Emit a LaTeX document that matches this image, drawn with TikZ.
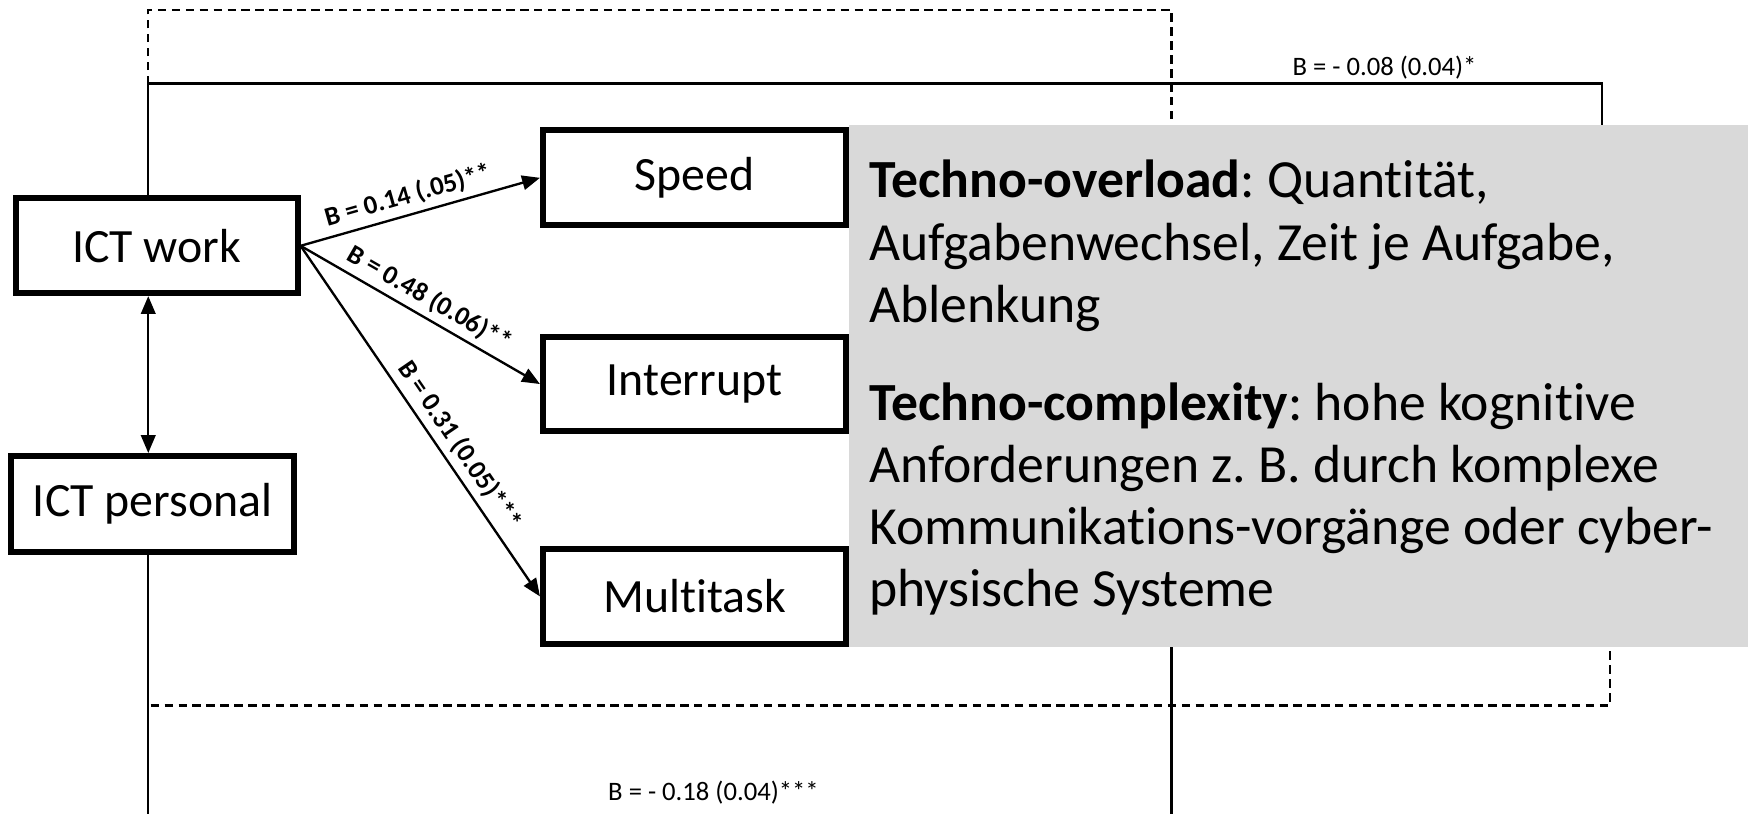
\documentclass[tikz,border=0pt]{standalone}
\usepackage{fontspec}
\setmainfont{Carlito}[Ligatures=NoCommon]
\usetikzlibrary{arrows.meta}
\definecolor{greybg}{RGB}{217,217,217}
\frenchspacing
\begin{document}
\begin{tikzpicture}[x=0.1mm,y=-0.1mm,
  box/.style={draw, line width=1.5pt, minimum width=27.2mm, minimum height=8.5mm, font=\fontsize{12.2}{14}\selectfont, inner sep=0pt},
  conn/.style={line width=0.6pt},
  tip/.tip={Triangle[length=1.6mm,width=1.3mm]},
  arr/.style={conn, -tip},
  dashline/.style={line width=0.6pt, dash pattern=on 0.75mm off 0.5mm},
  lab/.style={font=\bfseries\fontsize{6.8}{8}\selectfont, sloped, above, inner sep=1.5pt},
  plainlab/.style={font=\fontsize{6.8}{8}\selectfont, inner sep=0pt}
]
\useasboundingbox (0,0) rectangle (1568,730);
% nodes
\node[box, minimum width=25.3mm] (work) at (140.5,220.5) {ICT work};
\node[box, minimum width=25.4mm, minimum height=8.6mm] (pers) at (137,452) {ICT personal};
\node[box] (speed) at (623,159.5) {Speed};
\node[box] (inter) at (623,344.5) {Interrupt};
\node[box] (multi) at (623,535) {Multitask};
% helper coordinates
\coordinate (vx) at (133,0);
\coordinate (dx) at (1051,0);
\coordinate (sx) at (1437,0);
\coordinate (ex) at (1444,0);
\coordinate (ttop) at (133,9);
\coordinate (tsol) at (133,75);
\coordinate (bdash) at (133,633);
\coordinate (bot) at (0,730);
\coordinate (greytop) at (0,112);
\coordinate (greybot) at (0,580);
% lines
\draw[dashline] (work.north -| vx) -- (ttop) -- (ttop -| dx) -- (greytop -| dx);
\draw[conn] (work.north -| vx) -- (tsol) -- (tsol -| sx) -- (greytop -| sx);
\node[plainlab, anchor=base] (lbtop) at (1242,68) {B = - 0.08 (0.04)*};
\draw[dashline] (pers.south -| vx) -- (bdash) -- (bdash -| ex) -- (greybot -| ex);
\draw[conn] (pers.south -| vx) -- (bot -| vx);
\draw[conn] (greybot -| dx) -- (bot -| dx);
\node[plainlab, anchor=base] (lbbot) at (640,718) {B = - 0.18 (0.04)***};
% arrows
\draw[conn, tip-tip] (work.south -| vx) -- (pers.north -| vx);
\draw[arr] (work.east) -- node[lab, pos=0.47] {B = 0.14 (.05)**} (speed.west);
\draw[arr] (work.east) -- node[lab, pos=0.5] {B = 0.48 (0.06)**} (inter.west);
\draw[arr] (work.east) -- node[lab, pos=0.6] {B = 0.31 (0.05)***} (multi.west);
% grey panel
\node[fill=greybg, minimum width=80.6mm, minimum height=46.8mm, inner sep=0pt] (grey) at (1165,346) {};
\node[anchor=north west, align=left, inner sep=0pt, font=\fontsize{13.7}{15.9}\selectfont] (desc) at (779,143)
 {\textbf{Techno-overload}: Quantität,\\
  Aufgabenwechsel, Zeit je Aufgabe,\\
  Ablenkung\\[9pt]
  \textbf{Techno-complexity}: hohe kognitive\\
  Anforderungen z. B. durch komplexe\\
  Kommunikations-vorgänge oder cyber-\\
  physische Systeme};
\end{tikzpicture}
\end{document}
